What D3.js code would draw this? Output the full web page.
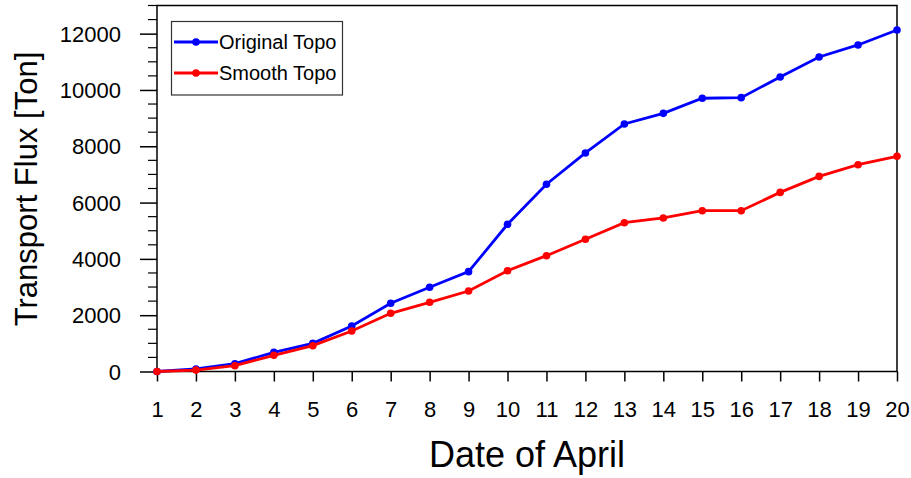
<!DOCTYPE html>
<html><head><meta charset="utf-8">
<script src="https://cdn.jsdelivr.net/npm/d3@7"></script>
<style>body{margin:0;background:#fff}svg{display:block;font-family:"Liberation Sans",Arial,Helvetica,sans-serif}</style>
</head><body>
<script>
const days = [1,2,3,4,5,6,7,8,9,10,11,12,13,14,15,16,17,18,19,20];
const originalTopo = [0,89,277,682,1000,1616,2422,2990,3546,5229,6650,7762,8792,9170,9705,9727,10462,11172,11599,12131];
const smoothTopo = [0,50,206,575,917,1439,2067,2458,2860,3581,4114,4696,5286,5453,5712,5712,6362,6930,7346,7644];
const yTicks = [0,2000,4000,6000,8000,10000,12000];
const seriesNames = ["Original Topo","Smooth Topo"];
const seriesColors = ["#0000ff","#ff0000"];

const W=911,H=478;
const m={l:157,r:14,t:5.5,b:106.5};
const svg=d3.select("body").append("svg").attr("width",W).attr("height",H);
const x=d3.scaleLinear().domain([1,20]).range([m.l,W-m.r]);
const y=d3.scaleLinear().domain([0,13000]).range([H-m.b,m.t]);

// frame
svg.append("rect").attr("x",x(1)).attr("y",y(13000)).attr("width",x(20)-x(1)).attr("height",y(0)-y(13000))
  .attr("fill","none").attr("stroke","#000").attr("stroke-width",1.5);

// y minor ticks
const yMinor=d3.range(0,13001,500).filter(v=>v%2000!==0);
svg.append("g").selectAll("line").data(yMinor).join("line")
  .attr("x1",x(1)-9).attr("x2",x(1)).attr("y1",d=>y(d)).attr("y2",d=>y(d)).attr("stroke","#000").attr("stroke-width",1.2);

const yAxis=svg.append("g").attr("transform",`translate(${x(1)},0)`)
  .call(d3.axisLeft(y).tickValues(yTicks).tickSize(17).tickPadding(19).tickFormat(d3.format("d")));
yAxis.select(".domain").remove();
yAxis.selectAll("line").attr("stroke-width",1.5);
yAxis.selectAll("text").attr("font-size",22).attr("fill","#000").attr("font-family","Liberation Sans,Arial,sans-serif").attr("dy","0.35em");

const xAxis=svg.append("g").attr("transform",`translate(0,${y(0)})`)
  .call(d3.axisBottom(x).tickValues(days).tickSize(10).tickFormat(d3.format("d")));
xAxis.select(".domain").remove();
xAxis.selectAll("line").attr("stroke-width",1.5);
xAxis.selectAll("text").attr("font-size",22).attr("fill","#000").attr("font-family","Liberation Sans,Arial,sans-serif")
  .attr("y",417-y(0)).attr("dy",0);

// titles
svg.append("text").attr("x",(x(1)+x(20))/2).attr("y",467).attr("text-anchor","middle")
  .attr("font-size",36).text("Date of April");
svg.append("text").attr("transform",`translate(37,189) rotate(-90)`).attr("text-anchor","middle")
  .attr("font-size",31).text("Transport Flux [Ton]");

// lines
const series=[originalTopo,smoothTopo];
const line=d3.line().x((d,i)=>x(days[i])).y(d=>y(d));
series.forEach((s,k)=>{
  svg.append("path").datum(s).attr("d",line).attr("fill","none").attr("stroke",seriesColors[k]).attr("stroke-width",2.8);
  svg.append("g").selectAll("circle").data(s).join("circle")
    .attr("cx",(d,i)=>x(days[i])).attr("cy",d=>y(d)).attr("r",3.8).attr("fill",seriesColors[k]);
});

// legend
const lg=svg.append("g");
lg.append("rect").attr("x",171.5).attr("y",21.5).attr("width",171).attr("height",73.5)
  .attr("fill","#fff").attr("stroke","#333").attr("stroke-width",1.2);
seriesNames.forEach((n,k)=>{
  const yy=42+k*31;
  lg.append("line").attr("x1",174).attr("x2",218).attr("y1",yy).attr("y2",yy).attr("stroke",seriesColors[k]).attr("stroke-width",2.8);
  lg.append("circle").attr("cx",196).attr("cy",yy).attr("r",3.8).attr("fill",seriesColors[k]);
  lg.append("text").attr("x",219).attr("y",yy+7).attr("font-size",20).text(n);
});
</script>
</body></html>
